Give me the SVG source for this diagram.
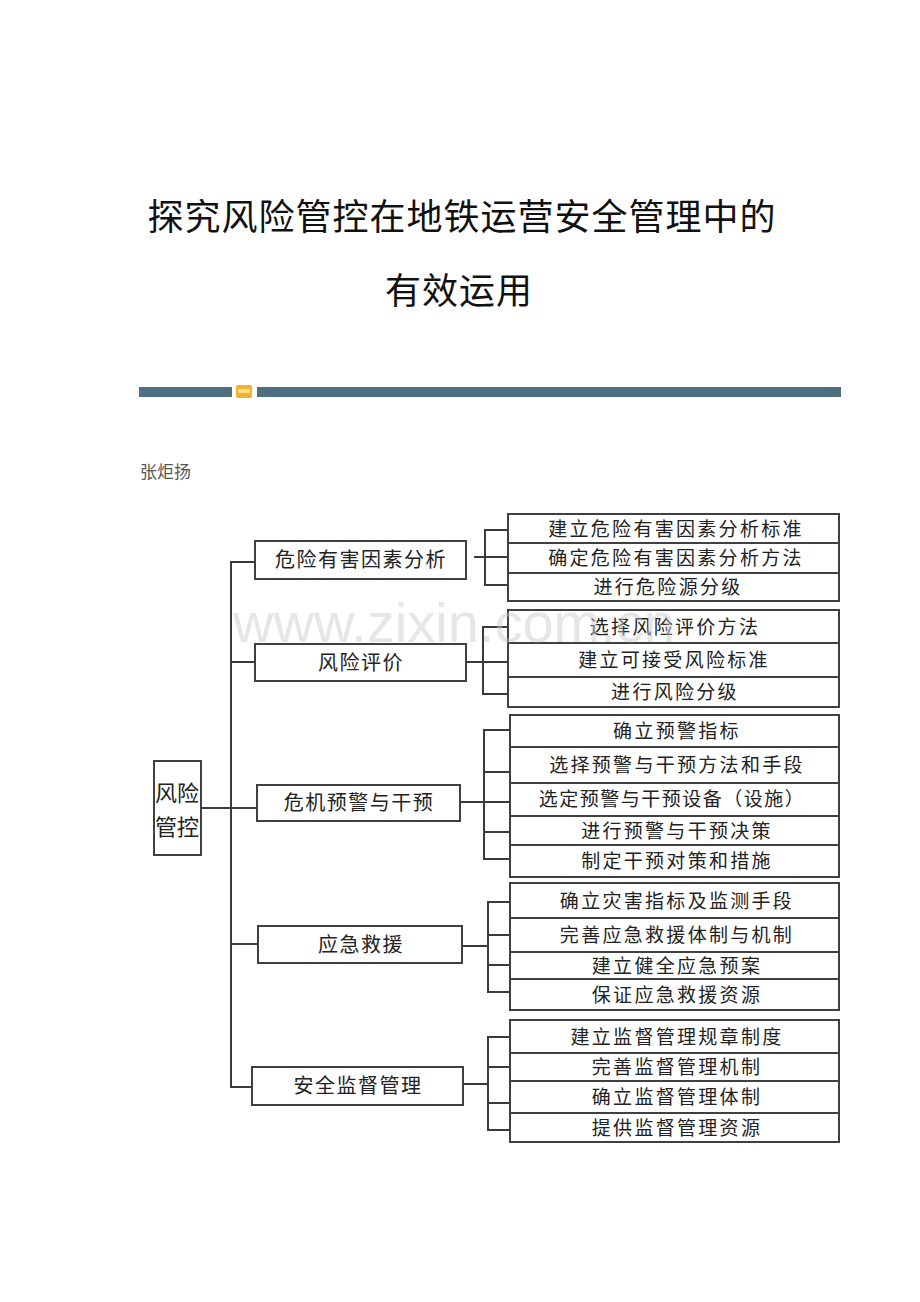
<svg xmlns="http://www.w3.org/2000/svg" width="920" height="1302" viewBox="0 0 920 1302">
<style>
.title{font-family:"Noto Sans CJK SC","Noto Sans",sans-serif;font-size:36px;fill:#111;text-anchor:middle;letter-spacing:1px}
.author{font-family:"Noto Sans CJK SC",sans-serif;font-size:17px;fill:#555}
.box{fill:#fff;stroke:#404040;stroke-width:2}
.div{stroke:#404040;stroke-width:2}
.t1{font-family:"Noto Sans CJK SC",sans-serif;font-size:20px;fill:#222;text-anchor:middle;letter-spacing:1.5px}
.t2{font-family:"Noto Sans CJK SC",sans-serif;font-size:19px;fill:#222;text-anchor:middle;letter-spacing:2.3px}
.t0{font-family:"Noto Sans CJK SC",sans-serif;font-size:22px;fill:#222;text-anchor:middle}
.con line{stroke:#3a3a3a;stroke-width:2}
</style>
<rect width="920" height="1302" fill="#fff"/>
<text class="title" x="462" y="230">探究风险管控在地铁运营安全管理中的</text>
<text class="title" x="459" y="304">有效运用</text>
<g id="separator">
<rect x="139" y="387" width="93" height="10" fill="#4f6e80"/>
<rect x="257" y="387" width="584" height="10" fill="#4f6e80"/>
<rect x="236" y="385" width="16" height="13" rx="2" fill="#f2b32a"/>
<rect x="238" y="389" width="12" height="4" fill="#ffe08a"/>
</g>
<text class="author" x="140" y="478">张炬扬</text>
<g class="con" id="connectors">
<line x1="201" y1="808" x2="257" y2="808"/>
<line x1="231" y1="561" x2="231" y2="1088"/>
<line x1="230" y1="562" x2="255" y2="562"/>
<line x1="231" y1="662" x2="255" y2="662"/>
<line x1="231" y1="944" x2="258" y2="944"/>
<line x1="230" y1="1087" x2="252" y2="1087"/>
<line x1="474" y1="557" x2="508" y2="557"/>
<line x1="485" y1="529" x2="485" y2="586"/>
<line x1="484" y1="530" x2="508" y2="530"/>
<line x1="484" y1="585" x2="508" y2="585"/>
<line x1="466" y1="662" x2="508" y2="662"/>
<line x1="483" y1="626" x2="483" y2="695"/>
<line x1="482" y1="627" x2="508" y2="627"/>
<line x1="482" y1="694" x2="508" y2="694"/>
<line x1="459" y1="802" x2="510" y2="802"/>
<line x1="484" y1="729" x2="484" y2="860"/>
<line x1="483" y1="730" x2="510" y2="730"/>
<line x1="484" y1="772" x2="510" y2="772"/>
<line x1="484" y1="832" x2="510" y2="832"/>
<line x1="483" y1="859" x2="510" y2="859"/>
<line x1="462" y1="946" x2="488" y2="946"/>
<line x1="488" y1="901" x2="488" y2="993"/>
<line x1="487" y1="902" x2="510" y2="902"/>
<line x1="488" y1="935" x2="510" y2="935"/>
<line x1="488" y1="965" x2="510" y2="965"/>
<line x1="487" y1="992" x2="510" y2="992"/>
<line x1="463" y1="1084" x2="488" y2="1084"/>
<line x1="488" y1="1036" x2="488" y2="1131"/>
<line x1="487" y1="1037" x2="510" y2="1037"/>
<line x1="488" y1="1067" x2="510" y2="1067"/>
<line x1="488" y1="1103" x2="510" y2="1103"/>
<line x1="487" y1="1130" x2="510" y2="1130"/>
</g>
<g id="root">
<rect class="box" x="154" y="761" width="47" height="94"/>
<text class="t0" x="177" y="801">风险</text>
<text class="t0" x="177" y="835">管控</text>
</g>
<g id="n1">
<rect class="box" x="255" y="541" width="211" height="38"/>
<text class="t1" x="361" y="567">危险有害因素分析</text>
</g>
<g id="n2">
<rect class="box" x="255" y="644" width="211" height="37"/>
<text class="t1" x="361" y="670">风险评价</text>
</g>
<g id="n3">
<rect class="box" x="257" y="785" width="203" height="36"/>
<text class="t1" x="359" y="810">危机预警与干预</text>
</g>
<g id="n4">
<rect class="box" x="258" y="926" width="204" height="37"/>
<text class="t1" x="361" y="952">应急救援</text>
</g>
<g id="n5">
<rect class="box" x="252" y="1067" width="211" height="38"/>
<text class="t1" x="358" y="1093">安全监督管理</text>
</g>
<g id="g1">
<rect class="box" x="508" y="514" width="331" height="87"/>
<line class="div" x1="508" y1="543" x2="839" y2="543"/>
<line class="div" x1="508" y1="573" x2="839" y2="573"/>
<text class="t2" x="676" y="536">建立危险有害因素分析标准</text>
<text class="t2" x="676" y="565">确定危险有害因素分析方法</text>
<text class="t2" x="668" y="594">进行危险源分级</text>
</g>
<g id="g2">
<rect class="box" x="508" y="610" width="331" height="97"/>
<line class="div" x1="508" y1="643" x2="839" y2="643"/>
<line class="div" x1="508" y1="677" x2="839" y2="677"/>
<text class="t2" x="675" y="634">选择风险评价方法</text>
<text class="t2" x="674" y="667">建立可接受风险标准</text>
<text class="t2" x="675" y="699">进行风险分级</text>
</g>
<g id="g3">
<rect class="box" x="510" y="715" width="329" height="162"/>
<line class="div" x1="510" y1="747" x2="839" y2="747"/>
<line class="div" x1="510" y1="783" x2="839" y2="783"/>
<line class="div" x1="510" y1="816" x2="839" y2="816"/>
<line class="div" x1="510" y1="845" x2="839" y2="845"/>
<text class="t2" x="677" y="738">确立预警指标</text>
<text class="t2" x="677" y="772">选择预警与干预方法和手段</text>
<text class="t2" x="672" y="806" style="letter-spacing:1.5px">选定预警与干预设备（设施）</text>
<text class="t2" x="677" y="838">进行预警与干预决策</text>
<text class="t2" x="677" y="868">制定干预对策和措施</text>
</g>
<g id="g4">
<rect class="box" x="510" y="883" width="329" height="127"/>
<line class="div" x1="510" y1="918" x2="839" y2="918"/>
<line class="div" x1="510" y1="952" x2="839" y2="952"/>
<line class="div" x1="510" y1="979" x2="839" y2="979"/>
<text class="t2" x="677" y="908">确立灾害指标及监测手段</text>
<text class="t2" x="677" y="942">完善应急救援体制与机制</text>
<text class="t2" x="677" y="973">建立健全应急预案</text>
<text class="t2" x="677" y="1002">保证应急救援资源</text>
</g>
<g id="g5">
<rect class="box" x="510" y="1020" width="329" height="122"/>
<line class="div" x1="510" y1="1053" x2="839" y2="1053"/>
<line class="div" x1="510" y1="1081" x2="839" y2="1081"/>
<line class="div" x1="510" y1="1113" x2="839" y2="1113"/>
<text class="t2" x="677" y="1044">建立监督管理规章制度</text>
<text class="t2" x="677" y="1074">完善监督管理机制</text>
<text class="t2" x="677" y="1104">确立监督管理体制</text>
<text class="t2" x="677" y="1135">提供监督管理资源</text>
</g>
<text x="233" y="642" font-family="Liberation Sans, Arial, sans-serif" font-size="56" fill="#c8c8c8" opacity="0.45">www.zixin.com.cn</text>
</svg>
